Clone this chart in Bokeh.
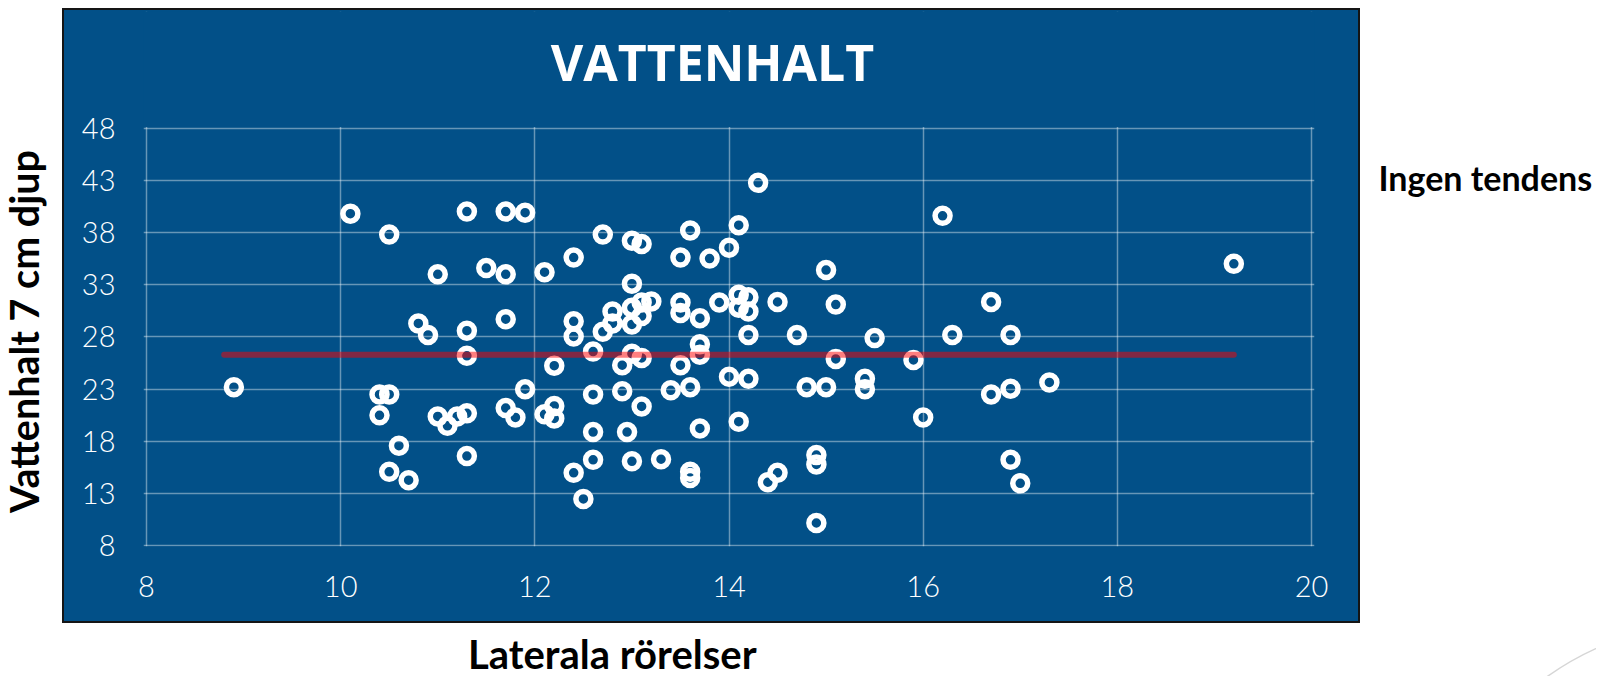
import math
from bokeh.plotting import figure
from bokeh.layouts import row, column
from bokeh.models import Range1d, FixedTicker, Spacer, BoxAnnotation
from bokeh.core.properties import value
from bokeh.embed import file_html
from bokeh.resources import INLINE

# ---------------- data ----------------
title_text = "VATTENHALT"
x_label = "Laterala rörelser"
y_label = "Vattenhalt 7 cm djup"
note_text = "Ingen tendens"

x_ticks = [8, 10, 12, 14, 16, 18, 20]
y_ticks = [8, 13, 18, 23, 28, 33, 38, 43, 48]

lateral = [
    10.1, 10.5, 11.3, 11.7, 11.9, 11.0, 11.5, 11.7, 12.1, 10.8, 10.9, 11.3, 11.7, 11.3, 12.2,
    8.9, 10.4, 10.5, 10.4, 10.6, 10.5, 10.7, 11.0, 11.1, 11.2, 11.3, 11.3, 11.7, 11.8, 11.9,
    12.1, 12.2, 12.2,
    12.4, 12.7, 13.0, 13.1, 13.6, 13.5, 13.8, 14.0, 14.1, 14.3, 15.0, 13.0,
    12.4, 12.4, 12.6, 12.7, 12.8, 12.8, 13.0, 13.0, 13.1, 13.1, 13.2, 13.5, 13.5, 13.7,
    13.7, 13.9, 14.1, 14.2, 14.1, 14.2, 14.5, 14.2, 14.7, 15.1, 15.5, 15.1, 13.0, 13.1, 13.7,
    12.9, 13.5, 14.0, 14.2, 14.8, 15.0, 15.4, 15.4, 12.6, 12.9, 13.1, 13.4, 13.6, 14.1,
    13.7, 12.6, 12.95, 12.6, 13.0, 13.3, 12.4, 12.5, 13.6, 13.6, 14.5, 14.4, 14.9, 14.9, 14.9,
    16.2, 19.2, 16.7, 16.3, 16.9, 15.9, 16.0, 16.7, 16.9, 17.3, 16.9, 17.0,
]
water = [
    39.8, 37.8, 40.0, 40.0, 39.9, 34.0, 34.6, 34.0, 34.2, 29.3, 28.2, 28.6, 29.7, 26.2, 25.25,
    23.2, 22.5, 22.5, 20.5, 17.6, 15.1, 14.3, 20.4, 19.5, 20.4, 20.7, 16.6, 21.2, 20.3, 23.0,
    20.6, 21.4, 20.2,
    35.6, 37.8, 37.2, 36.9, 38.2, 35.6, 35.5, 36.55, 38.7, 42.75, 34.4, 33.1,
    29.5, 28.05, 26.6, 28.5, 30.45, 29.3, 30.8, 29.2, 31.3, 30.0, 31.4, 31.3, 30.3, 29.8,
    27.3, 31.3, 32.05, 31.8, 30.8, 30.45, 31.35, 28.2, 28.2, 31.1, 27.9, 25.9, 26.4, 26.0, 26.3,
    25.3, 25.3, 24.2, 24.0, 23.2, 23.2, 24.0, 23.0, 22.5, 22.8, 21.35, 22.9, 23.2, 19.9,
    19.25, 18.9, 18.9, 16.25, 16.1, 16.3, 15.0, 12.5, 15.1, 14.5, 15.0, 14.1, 16.7, 15.8, 10.2,
    39.6, 35.0, 31.35, 28.2, 28.2, 25.8, 20.3, 22.5, 23.05, 23.65, 16.25, 14.0,
]
trend_x = [8.8, 19.2]
trend_y = [26.3, 26.3]

# ---------------- styling ----------------
BLUE = "#025088"
LABEL_FONT = "Lato"
TICK_FONT = "Lato Light, Lato"


def blank(w, h, bg):
    f = figure(width=w, height=h, x_range=Range1d(0, w), y_range=Range1d(h, 0),
               x_axis_type=None, y_axis_type=None, output_backend="svg",
               toolbar_location=None, min_border=0, outline_line_color=None,
               background_fill_color=bg, border_fill_color=bg)
    return f


# main blue panel: blue comes from the element background, so there are no seams
main = figure(width=1294, height=611, x_range=Range1d(7.969, 20.031), y_range=Range1d(7.95, 59.15),
              output_backend="svg", toolbar_location=None,
              min_border_left=79, min_border_right=44, min_border_top=1, min_border_bottom=75,
              background_fill_color=None, border_fill_color=None, outline_line_color=None,
              styles={"outline": "2px solid #151515", "background-color": BLUE})
main.xaxis.ticker = FixedTicker(ticks=x_ticks)
main.yaxis.ticker = FixedTicker(ticks=y_ticks)
for ax in (main.xaxis[0], main.yaxis[0]):
    ax.axis_line_color = None
    ax.major_tick_line_color = None
    ax.minor_tick_line_color = None
    ax.major_tick_out = 0
    ax.major_tick_in = 0
    ax.major_label_text_color = "white"
    ax.major_label_text_font = TICK_FONT
    ax.major_label_text_font_size = "29px"
main.yaxis.major_label_standoff = 28
main.xaxis.major_label_standoff = 29
main.grid.grid_line_color = "white"
main.grid.grid_line_alpha = 0.4
main.grid.grid_line_width = 1.5
main.xgrid.ticker = FixedTicker(ticks=x_ticks)
main.ygrid.ticker = FixedTicker(ticks=y_ticks)

# cover the vertical grid lines above the top tick (title area)
main.add_layout(BoxAnnotation(bottom=48.1, fill_color=BLUE, fill_alpha=1.0,
                              line_color=None, level="underlay"))

main.scatter(lateral, water, marker="circle", size=15, line_width=5.5,
             line_color="white", fill_color=None)
main.line(trend_x, trend_y, line_color="#ff0000", line_alpha=0.5, line_width=6,
          line_cap="round")
main.text(x=[13.83], y=[54.36], text=[title_text], text_align="center",
          text_baseline="alphabetic", text_font=value("Open Sans"), text_font_style="bold",
          text_font_size="50px", text_color="white")

# left: y label
L = blank(62, 676, "white")
L.text(x=[23], y=[331], text=[y_label], angle=math.pi / 2, text_align="center",
       text_baseline="middle", text_font=value(LABEL_FONT), text_font_style="bold",
       text_font_size="39.5px", text_color="black")

# bottom: x label (frame of this strip is aligned with the main frame by the column layout)
B = blank(1294, 53, "white")
B.text(x=[518], y=[30], text=[x_label], text_align="center", text_baseline="alphabetic",
       text_font=value(LABEL_FONT), text_font_style="bold", text_font_size="40px",
       text_color="black")

# right: note + faint slide decoration
R = blank(236, 676, "white")
R.text(x=[18], y=[177], text=[note_text], text_align="left", text_baseline="alphabetic",
       text_font=value(LABEL_FONT), text_font_style="bold", text_font_size="34px",
       text_color="black")
R.quadratic(x0=[184], y0=[678], x1=[240], y1=[646], cx=[210], cy=[659],
            line_color="#d6d6d6", line_width=1.5)

layout = row(
    L,
    Spacer(width=2, height=676),
    column(Spacer(width=1294, height=10), main, Spacer(width=1294, height=2), B),
    Spacer(width=2, height=676),
    R,
)

open("out.html", "w").write(file_html(layout, INLINE))
